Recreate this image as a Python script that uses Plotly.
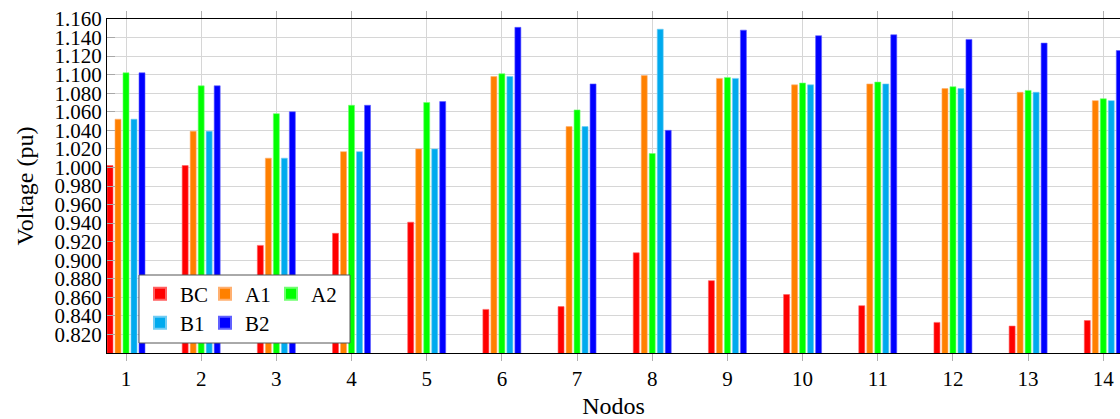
import plotly.graph_objects as go

nodes = list(range(1, 15))
series_names = ["BC", "A1", "A2", "B1", "B2"]
bc = [1.002, 1.002, 0.916, 0.929, 0.941, 0.847, 0.850, 0.908, 0.878, 0.863, 0.851, 0.833, 0.829, 0.835]
a1 = [1.052, 1.039, 1.010, 1.017, 1.020, 1.098, 1.044, 1.099, 1.096, 1.089, 1.090, 1.085, 1.081, 1.072]
a2 = [1.102, 1.088, 1.058, 1.067, 1.070, 1.101, 1.062, 1.015, 1.097, 1.091, 1.092, 1.087, 1.083, 1.074]
b1 = [1.052, 1.039, 1.010, 1.017, 1.020, 1.098, 1.044, 1.149, 1.096, 1.089, 1.090, 1.085, 1.081, 1.072]
b2 = [1.102, 1.088, 1.060, 1.067, 1.071, 1.151, 1.090, 1.040, 1.148, 1.142, 1.143, 1.138, 1.134, 1.126]
y_ticks = [round(0.82 + 0.02 * i, 3) for i in range(18)]
y_tick_labels = ["%.3f" % v for v in y_ticks]

colors = ["#ff0000", "#ff8000", "#00ff00", "#00aaee", "#0000ff"]
edge_colors = ["#ff6060", "#ffb070", "#70ff70", "#70ccf4", "#6060ff"]
legend_ids = ["legend", "legend", "legend3", "legend2", "legend2"]
all_series = [bc, a1, a2, b1, b2]

FONT = "Liberation Serif, DejaVu Serif, serif"
px_per_unit = 75.18
bar_w = 6 / px_per_unit
step = 8 / px_per_unit

# plot-area pixel geometry helpers (for legend placement)
L, T, W, H = 107, 19, 1013, 334
def px_x(p):
    return (p - L) / W
def px_y(p):
    return (T + H - p) / H

fig = go.Figure()
for k, (name, vals) in enumerate(zip(series_names, all_series)):
    center = (k - 2) * step
    fig.add_trace(go.Bar(
        x=nodes, y=vals, name=name, legend=legend_ids[k],
        width=bar_w, offset=center - bar_w / 2,
        marker=dict(color=colors[k], line=dict(color=edge_colors[k], width=0.6)),
    ))

legend_common = dict(
    xanchor="left", yanchor="middle",
    orientation="h", bgcolor="rgba(0,0,0,0)", borderwidth=0,
    font=dict(family=FONT, size=21, color="black"),
    itemsizing="constant", tracegroupgap=0,
)

fig.update_layout(
    width=1120, height=419,
    margin=dict(l=L, r=0, t=T, b=419 - T - H),
    paper_bgcolor="white", plot_bgcolor="white",
    barmode="overlay",
    font=dict(family=FONT, size=20, color="black"),
    showlegend=True,
    legend=dict(x=px_x(140), y=px_y(294), entrywidth=20, entrywidthmode="pixels", **legend_common),
    legend2=dict(x=px_x(140), y=px_y(323), entrywidth=20, entrywidthmode="pixels", **legend_common),
    legend3=dict(x=px_x(271), y=px_y(294), **legend_common),
    shapes=[dict(
        type="rect", xref="paper", yref="paper", layer="above",
        x0=px_x(139), x1=px_x(350), y0=px_y(343), y1=px_y(275),
        fillcolor="white", line=dict(color="#555555", width=1),
    )],
    xaxis=dict(
        range=[1 - 19 / px_per_unit, 14 + 16.7 / px_per_unit],
        tickvals=nodes, ticktext=[str(n) for n in nodes],
        showgrid=True, gridcolor="#d6d6d6", gridwidth=1,
        showline=True, linecolor="black", linewidth=1.3, mirror="ticks",
        ticks="outside", ticklen=7, tickcolor="#b0b0b0", tickwidth=1,
        tickfont=dict(family=FONT, size=21, color="black"),
        title=dict(text="Nodos", font=dict(family=FONT, size=24, color="black"), standoff=10),
        zeroline=False,
    ),
    yaxis=dict(
        range=[0.8, 1.16],
        tickvals=y_ticks, ticktext=y_tick_labels,
        showgrid=True, gridcolor="#d6d6d6", gridwidth=1,
        showline=True, linecolor="black", linewidth=1.3,
        ticks="inside", ticklen=8, tickcolor="#a8a8a8", tickwidth=1,
        tickfont=dict(family=FONT, size=21, color="black"),
        title=dict(text="Voltage (pu)", font=dict(family=FONT, size=24, color="black"), standoff=14),
        zeroline=False,
    ),
)

fig.write_html("out.html")
